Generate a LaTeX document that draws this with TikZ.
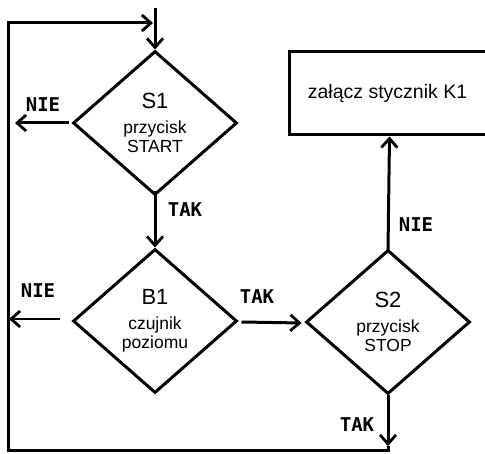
\documentclass[tikz,border=0pt]{standalone}
\usepackage{fontspec}
\setmainfont{Liberation Sans}
\newfontfamily\lblfont{DejaVu Sans Mono}
\usetikzlibrary{shapes.geometric,arrows.meta}
\tikzset{
  dec/.style={diamond, draw, line width=3pt, minimum width=164pt, minimum height=144pt, inner sep=0pt, aspect=1.14, align=center, font=\fontsize{17.5}{19}\selectfont},
  conn/.style={line width=3pt},
  tip/.style={-{Straight Barb[length=9pt,width=16pt,line width=2.8pt]}},
  arr/.style={line width=3pt, tip},
  lbl/.style={font=\lblfont\bfseries\fontsize{19}{19}\selectfont, inner sep=0pt},
  actbox/.style={draw, line width=3pt, minimum width=201pt, minimum height=83pt, inner sep=0pt, font=\fontsize{19.5}{19.5}\selectfont}
}
\begin{document}
\begin{tikzpicture}[x=1pt,y=-1pt]
\useasboundingbox (0,0) rectangle (485,454);
\fill[white] (0,0) rectangle (485,454);
\clip (0,0) rectangle (485,454);

\node[dec] (s1) at (155,123) {{\fontsize{22}{22}\selectfont S1}\\[6pt]przycisk\\START};
\node[dec] (b1) at (155,321) {{\fontsize{22}{22}\selectfont B1}\\[6pt]czujnik\\poziomu};
\node[dec] (s2) at (388,322) {{\fontsize{22}{22}\selectfont S2}\\[6pt]przycisk\\STOP};
\node[actbox] (k1) at (389.5,93.5) {\hspace*{-4pt}załącz stycznik K1};

\coordinate (top) at (155,8);
\coordinate (tl) at (8,23);
\coordinate (tin) at (153,23);
\coordinate (bl) at (8,451);
\coordinate (br) at (388,451);
\coordinate (s2out) at (388,446);
\coordinate (s1no) at (15,123);
\coordinate (b1start) at (60,319);
\coordinate (b1no) at (9,319);

\draw[arr] (top) -- (s1.north);
\draw[arr] (s2.south) -- (s2out);
\draw[conn, tip] (s2out) -- (br) -- (bl) -- (tl) -- (tin);

\draw[arr] ([xshift=-3pt]s1.west) -- (s1no);
\draw[arr] ([yshift=5pt]s1.south) -- (b1.north);
\draw[arr, line width=2.2pt] (b1start) -- (b1no);
\draw[arr] ([xshift=3pt,yshift=-1pt]b1.east) -- ([xshift=-3pt,yshift=-1pt]s2.west);
\draw[arr] ([yshift=-2pt]s2.north) -- (k1.south);

\node[lbl] (l1) at (43,105) {NIE};
\node[lbl] (l2) at (185,210) {TAK};
\node[lbl] (l3) at (38,291) {NIE};
\node[lbl] (l4) at (257,297) {TAK};
\node[lbl] (l5) at (416,225) {NIE};
\node[lbl] (l6) at (357,425) {TAK};
\end{tikzpicture}
\end{document}
